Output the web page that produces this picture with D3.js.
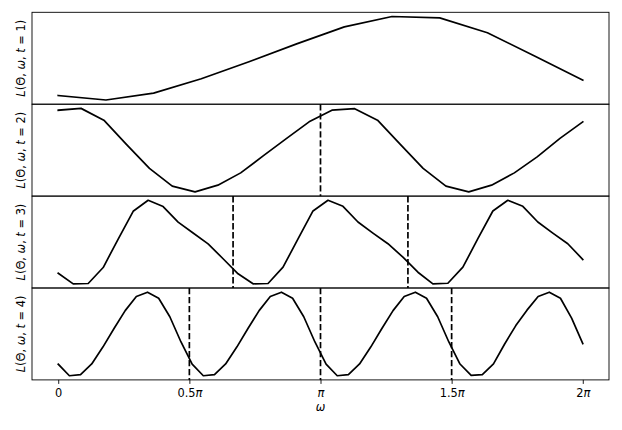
<!DOCTYPE html>
<html><head><meta charset="utf-8">
<script src="https://cdn.jsdelivr.net/npm/d3@7"></script>
<style>
body{margin:0;background:#fff}
svg{display:block}
text{font-family:"DejaVu Sans",sans-serif;fill:#000}
</style>
</head><body>
<svg id="chart" width="622" height="430"></svg>
<script>
// ---- data (arbitrary normalized loss units) ----
const tValues = [1, 2, 3, 4];
const loss1 = [0.054, 0.000, 0.082, 0.254, 0.458, 0.672, 0.876, 1.000, 0.984, 0.805, 0.524, 0.239];
const loss2 = [0.978, 1.000, 0.859, 0.566, 0.281, 0.069, 0.000, 0.081, 0.228, 0.434, 0.638, 0.839,
               0.978, 0.996, 0.859, 0.570, 0.281, 0.069, 0.000, 0.081, 0.228, 0.420, 0.641, 0.839];
const loss3 = [0.126, 0.000, 0.004, 0.195, 0.536, 0.868, 1.000, 0.925, 0.739, 0.609, 0.478, 0.300,
               0.120, 0.000, 0.004, 0.199, 0.538, 0.872, 1.000, 0.928, 0.740, 0.607, 0.480, 0.319,
               0.139, 0.000, 0.007, 0.199, 0.540, 0.872, 1.000, 0.928, 0.740, 0.607, 0.480, 0.292];
const loss4 = [0.138, 0.000, 0.012, 0.141, 0.343, 0.565, 0.779, 0.948, 1.000, 0.927, 0.706, 0.404,
               0.138, 0.000, 0.012, 0.141, 0.343, 0.565, 0.779, 0.948, 1.000, 0.927, 0.706, 0.404,
               0.138, 0.000, 0.012, 0.141, 0.343, 0.565, 0.779, 0.948, 1.000, 0.927, 0.706, 0.404,
               0.140, 0.005, 0.012, 0.141, 0.380, 0.600, 0.785, 0.948, 1.000, 0.927, 0.690, 0.384];
const lossSeries = [loss1, loss2, loss3, loss4];
const dividerMultiplesOfPi = [[], [1], [2/3, 4/3], [0.5, 1, 1.5]];
const tickMultiplesOfPi = [0, 0.5, 1, 1.5, 2];
const tickLabels = [["0", ""], ["0.5", "π"], ["", "π"], ["1.5", "π"], ["2", "π"]];

// ---- layout ----
const svg = d3.select("#chart");
const left = 32, right = 609, top0 = 12.3, panelH = 91.9;
const fs = 11.4;
const x = d3.scaleLinear().domain([-0.1 * Math.PI, 2.1 * Math.PI]).range([left, right]);

lossSeries.forEach((vals, p) => {
  const top = top0 + p * panelH, bottom = top + panelH;
  const n = vals.length;
  const omega = vals.map((_, i) => 2 * Math.PI * i / (n - 1));
  const [mn, mx] = d3.extent(vals);
  const pad = (mx - mn) * 0.05;
  const y = d3.scaleLinear().domain([mn - pad, mx + pad]).range([bottom, top]);
  const g = svg.append("g");

  g.append("path")
    .datum(vals)
    .attr("fill", "none").attr("stroke", "#000").attr("stroke-width", 1.7)
    .attr("stroke-linejoin", "round").attr("stroke-linecap", "square")
    .attr("d", d3.line().x((d, i) => x(omega[i])).y(d => y(d)));

  g.selectAll("line.div").data(dividerMultiplesOfPi[p]).enter().append("line")
    .attr("x1", d => x(d * Math.PI)).attr("x2", d => x(d * Math.PI))
    .attr("y1", top).attr("y2", bottom)
    .attr("stroke", "#000").attr("stroke-width", 1.7).attr("stroke-dasharray", "6.3,2.7");

  g.append("rect").attr("x", left).attr("y", top).attr("width", right - left).attr("height", panelH)
    .attr("fill", "none").attr("stroke", "#000").attr("stroke-width", 0.9);

  // y label (mathtext-like)
  const cy = (top + bottom) / 2;
  const lab = g.append("text")
    .attr("transform", `translate(${20.7 + 4},${cy}) rotate(-90)`)
    .attr("text-anchor", "middle").attr("font-size", fs);
  lab.append("tspan").attr("font-style", "italic").text("L");
  lab.append("tspan").text("(Θ, ");
  lab.append("tspan").attr("font-style", "italic").text("ω");
  lab.append("tspan").text(", ");
  lab.append("tspan").attr("font-style", "italic").text("t");
  lab.append("tspan").text(" = " + tValues[p] + ")");

  if (p === lossSeries.length - 1) {
    const ax = g.append("g").attr("transform", `translate(0,${bottom})`)
      .call(d3.axisBottom(x).tickValues(tickMultiplesOfPi.map(d => d * Math.PI))
        .tickSize(4).tickPadding(3.5).tickFormat(""));
    ax.select(".domain").remove();
    ax.selectAll(".tick line").attr("stroke", "#000").attr("stroke-width", 0.9);
    ax.selectAll(".tick text").remove();
    ax.selectAll(".tick").each(function(d, i) {
      const t = d3.select(this).append("text")
        .attr("y", 16.8).attr("text-anchor", "middle").attr("font-size", fs).attr("fill", "#000");
      if (tickLabels[i][0]) t.append("tspan").text(tickLabels[i][0]);
      if (tickLabels[i][1]) t.append("tspan").attr("font-style", "italic").text(tickLabels[i][1]);
    });
    svg.append("text").attr("x", (left + right) / 2).attr("y", bottom + 31.5)
      .attr("text-anchor", "middle").attr("font-size", fs).attr("font-style", "italic").text("ω");
  }
});
</script>
</body></html>
